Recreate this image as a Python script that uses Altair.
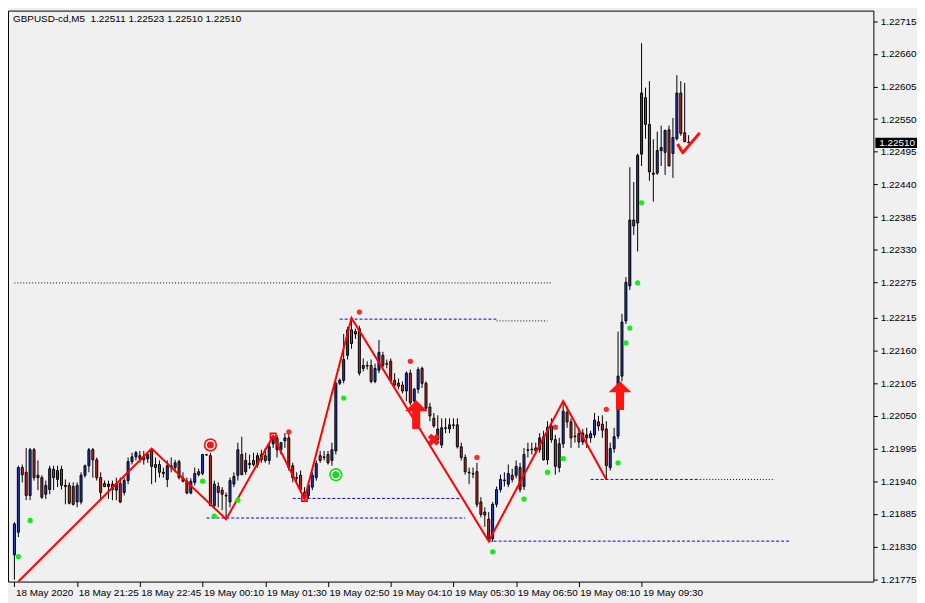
import json
import altair as alt
import pandas as pd

# ---------------- data ----------------
OPEN = [1.21816,1.21854,1.21963,1.21955,1.21916,1.21993,1.21946,1.21946,1.21918,1.21926,
        1.21960,1.21943,1.21960,1.21933,1.21933,1.21931,1.21905,1.21905,1.21950,1.21966,
        1.21993,1.21976,1.21946,1.21936,1.21931,1.21935,1.21925,1.21936,1.21921,1.21941,
        1.21973,1.21981,1.21983,1.21981,1.21978,1.21993,1.21968,1.21968,1.21955,1.21943,
        1.21966,1.21963,1.21973,1.21945,1.21940,1.21920,1.21938,1.21956,1.21953,1.21985,
        1.21983,1.21899,1.21931,1.21925,1.21916,1.21905,1.21935,1.21950,1.21985,1.21956,
        1.21968,1.21975,1.21968,1.21985,1.21983,1.21975,1.22003,1.22013,1.21993,1.22008,
        1.22013,1.21966,1.21946,1.21950,1.21921,1.21916,1.21930,1.21946,1.21983,1.21980,
        1.21985,1.21975,1.21991,1.22105,1.22110,1.22152,1.22195,1.22188,1.22197,1.22130,
        1.22135,1.22135,1.22108,1.22127,1.22152,1.22138,1.22142,1.22110,1.22105,1.22102,
        1.22092,1.22122,1.22075,1.22095,1.22130,1.22105,1.22065,1.22046,1.22010,1.22001,
        1.22030,1.22028,1.22035,1.22035,1.21998,1.21980,1.21955,1.21953,1.21956,1.21905,
        1.21888,1.21876,1.21843,1.21901,1.21926,1.21941,1.21935,1.21950,1.21950,1.21963,
        1.21931,1.21993,1.21993,1.21996,1.21993,1.22015,1.21976,1.22033,1.22010,1.21963,
        1.22003,1.22056,1.22040,1.22016,1.22020,1.22006,1.22018,1.22013,1.22018,1.22040,
        1.22036,1.22028,1.21963,1.21995,1.22016,1.22117,1.22210,1.22269,1.22380,1.22375,
        1.22491,1.22586,1.22541,1.22459,1.22459,1.22497,1.22494,1.22532,1.22492,1.22517,
        1.22594,1.22527,1.22511]
HIGH = [1.21871,1.21966,1.21968,1.21996,1.21996,1.21996,1.21975,1.21950,1.21941,1.21966,
        1.21966,1.21966,1.21966,1.21943,1.21938,1.21938,1.21938,1.21955,1.21968,1.21996,
        1.21996,1.21980,1.21955,1.21941,1.21941,1.21941,1.21946,1.21946,1.21946,1.21980,
        1.21988,1.21991,1.21991,1.21991,1.21988,1.21995,1.21980,1.21975,1.21963,1.21975,
        1.21980,1.21976,1.21976,1.21955,1.21946,1.21945,1.21963,1.21961,1.21986,1.21986,
        1.21988,1.21941,1.21938,1.21930,1.21921,1.21946,1.21955,1.22005,1.22015,1.21988,
        1.21985,1.21988,1.21988,1.21993,1.21996,1.22005,1.22016,1.22018,1.22005,1.22021,
        1.22025,1.21971,1.21955,1.21958,1.21930,1.21938,1.21955,1.21975,1.21991,1.21991,
        1.21991,1.22005,1.22108,1.22113,1.22188,1.22200,1.22215,1.22197,1.22202,1.22147,
        1.22142,1.22145,1.22138,1.22178,1.22158,1.22145,1.22147,1.22122,1.22113,1.22108,
        1.22125,1.22128,1.22097,1.22132,1.22133,1.22108,1.22072,1.22055,1.22051,1.22046,
        1.22046,1.22046,1.22046,1.22046,1.22005,1.21985,1.21963,1.21963,1.21971,1.21913,
        1.21896,1.21888,1.21905,1.21931,1.21951,1.21955,1.21968,1.21961,1.21975,1.21971,
        1.21996,1.22005,1.22005,1.22005,1.22021,1.22025,1.22041,1.22046,1.22018,1.22013,
        1.22075,1.22065,1.22046,1.22038,1.22030,1.22028,1.22030,1.22025,1.22055,1.22050,
        1.22051,1.22041,1.22005,1.22030,1.22192,1.22222,1.22284,1.22469,1.22444,1.22492,
        1.22678,1.22603,1.22614,1.22516,1.22529,1.22539,1.22532,1.22539,1.22552,1.22624,
        1.22614,1.22611,1.22523]
LOW = [1.21774,1.21846,1.21938,1.21908,1.21908,1.21941,1.21925,1.21910,1.21910,1.21918,
       1.21925,1.21930,1.21926,1.21901,1.21901,1.21899,1.21896,1.21901,1.21946,1.21955,
       1.21946,1.21941,1.21908,1.21930,1.21910,1.21908,1.21908,1.21903,1.21916,1.21935,
       1.21968,1.21975,1.21971,1.21968,1.21971,1.21935,1.21938,1.21946,1.21946,1.21930,
       1.21955,1.21955,1.21943,1.21938,1.21918,1.21918,1.21933,1.21948,1.21950,1.21983,
       1.21898,1.21896,1.21896,1.21891,1.21876,1.21896,1.21930,1.21941,1.21950,1.21951,
       1.21961,1.21965,1.21963,1.21971,1.21971,1.21968,1.21996,1.21980,1.21985,1.21996,
       1.21958,1.21938,1.21938,1.21921,1.21910,1.21911,1.21925,1.21941,1.21971,1.21975,
       1.21968,1.21966,1.21985,1.22102,1.22105,1.22145,1.22163,1.22180,1.22118,1.22125,
       1.22128,1.22105,1.22105,1.22122,1.22130,1.22130,1.22105,1.22097,1.22095,1.22088,
       1.22075,1.22068,1.22072,1.22088,1.22097,1.22058,1.22041,1.22030,1.22005,1.21996,
       1.22021,1.22021,1.22028,1.21995,1.21975,1.21951,1.21935,1.21945,1.21896,1.21879,
       1.21863,1.21839,1.21838,1.21896,1.21921,1.21931,1.21930,1.21938,1.21945,1.21921,
       1.21925,1.21980,1.21985,1.21985,1.21988,1.21975,1.21968,1.22005,1.21951,1.21955,
       1.21996,1.22030,1.21996,1.22005,1.21996,1.22001,1.21996,1.22005,1.22013,1.22025,
       1.22013,1.21943,1.21958,1.21988,1.22011,1.22108,1.22205,1.22262,1.22355,1.22327,
       1.22471,1.22517,1.22446,1.22411,1.22456,1.22471,1.22456,1.22471,1.22451,1.22514,
       1.22522,1.22511,1.22510]
CLOSE = [1.21868,1.21963,1.21951,1.21916,1.21993,1.21946,1.21950,1.21913,1.21933,1.21961,
         1.21946,1.21958,1.21933,1.21931,1.21903,1.21901,1.21933,1.21950,1.21966,1.21993,
         1.21976,1.21946,1.21921,1.21931,1.21935,1.21926,1.21936,1.21905,1.21941,1.21973,
         1.21981,1.21988,1.21978,1.21976,1.21985,1.21965,1.21963,1.21955,1.21953,1.21966,
         1.21963,1.21971,1.21946,1.21940,1.21920,1.21940,1.21953,1.21951,1.21985,1.21984,
         1.21899,1.21935,1.21921,1.21918,1.21915,1.21941,1.21948,1.21993,1.21951,1.21975,
         1.21970,1.21968,1.21983,1.21976,1.21975,1.21998,1.22016,1.21993,1.22005,1.22013,
         1.21963,1.21946,1.21945,1.21926,1.21913,1.21933,1.21950,1.21970,1.21975,1.21981,
         1.21971,1.21993,1.22105,1.22110,1.22145,1.22195,1.22172,1.22192,1.22122,1.22135,
         1.22134,1.22108,1.22130,1.22157,1.22135,1.22137,1.22110,1.22102,1.22100,1.22092,
         1.22122,1.22072,1.22095,1.22128,1.22105,1.22063,1.22050,1.22033,1.22028,1.22030,
         1.22029,1.22035,1.22034,1.21998,1.21980,1.21956,1.21954,1.21952,1.21901,1.21884,
         1.21883,1.21843,1.21901,1.21926,1.21943,1.21942,1.21953,1.21943,1.21965,1.21926,
         1.21985,1.21992,1.21994,1.21991,1.22013,1.21976,1.22031,1.22010,1.21965,1.22003,
         1.22058,1.22040,1.22013,1.22015,1.22006,1.22021,1.22013,1.22020,1.22043,1.22033,
         1.22026,1.21966,1.21995,1.22015,1.22117,1.22208,1.22275,1.22380,1.22370,1.22489,
         1.22594,1.22541,1.22461,1.22457,1.22497,1.22502,1.22531,1.22471,1.22519,1.22594,
         1.22526,1.22512,1.22510]

ZIG_BARS = [1, 35, 54, 66, 74, 86, 121, 140, 151]
ZIG_PRICES = [1.21771, 1.21995, 1.21876, 1.22016, 1.21910, 1.22215, 1.21839, 1.22075, 1.21943]

BLUE_LINE_START = [83, 71, 49, 147, 121]
BLUE_LINE_END = [123, 114, 115, 175, 198]
BLUE_LINE_PRICE = [1.22213, 1.21911, 1.21878, 1.21943, 1.21839]
DOT_LINE_START = [0, 123, 175]
DOT_LINE_END = [137, 136, 194]
DOT_LINE_PRICE = [1.22274, 1.22210, 1.21943]

GREEN_DOT_BARS = [1, 4, 48, 51, 57, 84, 122, 130, 136, 140, 154, 156, 157, 159, 160]
GREEN_DOT_PRICES = [1.21813, 1.21874, 1.21940, 1.21881, 1.21908, 1.22080, 1.21821, 1.21910,
                    1.21955, 1.21978, 1.21971, 1.22173, 1.22198, 1.22274, 1.22409]
RED_DOT_BARS = [70, 88, 101, 118, 138, 151]
RED_DOT_PRICES = [1.22023, 1.22225, 1.22142, 1.21980, 1.22031, 1.22061]
RED_TARGET = {"bar": [50], "price": [1.22001]}
GREEN_TARGET = {"bar": [82], "price": [1.21951]}
SQUARE_BARS = [66, 74]
SQUARE_PRICES = [1.22016, 1.21911]
CROSS = {"bar": [107], "price": [1.22010]}
ARROW_BARS = [102.5, 154.5]
ARROW_PRICES = [1.22052, 1.22084]
CHECK = {"bar": [172], "price": [1.22510]}

LAST_PRICE = 1.22510
TITLE = "GBPUSD-cd,M5\u00a0 1.22511 1.22523 1.22510 1.22510"

X_TICK_BARS = [0, 16, 32, 48, 64, 80, 96, 112, 128, 144, 160]
X_TICK_LABELS = ["18 May 2020", "18 May 21:25", "18 May 22:45", "19 May 00:10",
                 "19 May 01:30", "19 May 02:50", "19 May 04:10", "19 May 05:30",
                 "19 May 06:50", "19 May 08:10", "19 May 09:30"]
Y_TICKS = [1.22715, 1.22660, 1.22605, 1.22550, 1.22495, 1.22440, 1.22385, 1.22330,
           1.22275, 1.22215, 1.22160, 1.22105, 1.22050, 1.21995, 1.21940, 1.21885,
           1.21830, 1.21775]

# ---------------- styling ----------------
W, H = 873, 576
BG = "#f0f0f0"
BULL = "#1f3ccc"
BEAR = "#d42a20"
ZIGRED = "#ff0000"
FONT = "Liberation Sans"
FS = 10

xscale = alt.Scale(domain=[-0.375, 217.875], nice=False, zero=False)
yscale = alt.Scale(domain=[1.217709, 1.227328], nice=False, zero=False)

xaxis = alt.Axis(values=X_TICK_BARS, title=None, grid=False, domain=False,
                 labelExpr=f"{json.dumps(X_TICK_LABELS)}[round(datum.value/16)]",
                 tickSize=5, tickColor="black", labelAlign="left", labelBaseline="top",
                 labelPadding=1, labelOffset=1, labelFont=FONT, labelFontSize=FS,
                 labelColor="black", labelOverlap=False, labelFlush=False, labelBound=False)
yaxis = alt.Axis(values=Y_TICKS, format=".5f", orient="right", title=None, grid=False,
                 domain=False, tickSize=4, tickColor="black", labelPadding=3,
                 labelFont=FONT, labelFontSize=FS, labelColor="black",
                 labelOverlap=False, labelFlush=False, labelBound=False)


def X(f):
    return alt.X(f"{f}:Q", scale=xscale, axis=xaxis)


def Y(f):
    return alt.Y(f"{f}:Q", scale=yscale, axis=yaxis)


df = pd.DataFrame({"bar": list(range(len(OPEN))), "open": OPEN, "high": HIGH,
                   "low": LOW, "close": CLOSE})
df["dir"] = ["up" if c > o else "down" for o, c in zip(OPEN, CLOSE)]

blue_df = pd.DataFrame({"x0": BLUE_LINE_START, "x1": BLUE_LINE_END, "price": BLUE_LINE_PRICE})
dot_df = pd.DataFrame({"x0": DOT_LINE_START, "x1": DOT_LINE_END, "price": DOT_LINE_PRICE})

blue_lines = alt.Chart(blue_df).mark_rule(color="#0000e6", strokeWidth=1, strokeDash=[3, 2]).encode(
    x=X("x0"), x2="x1:Q", y=Y("price"))
dot_lines = alt.Chart(dot_df).mark_rule(color="#000000", strokeWidth=1, strokeDash=[1, 2]).encode(
    x=X("x0"), x2="x1:Q", y=Y("price"))

wicks = alt.Chart(df).mark_rule(color="black", strokeWidth=1).encode(
    x=X("bar"), y=Y("low"), y2="high:Q")
bodies = alt.Chart(df).mark_bar(size=2, stroke="black", strokeWidth=1, orient="vertical").encode(
    x=X("bar"), y=Y("open"), y2="close:Q",
    color=alt.Color("dir:N", scale=alt.Scale(domain=["up", "down"], range=[BULL, BEAR]), legend=None))

zig = alt.Chart(pd.DataFrame({"bar": ZIG_BARS, "price": ZIG_PRICES})).mark_line(
    color=ZIGRED, strokeWidth=2).encode(x=X("bar"), y=Y("price"), order="bar:Q")

green_dots = alt.Chart(pd.DataFrame({"bar": GREEN_DOT_BARS, "price": GREEN_DOT_PRICES})).mark_circle(
    size=28, color="#10f010", opacity=1).encode(x=X("bar"), y=Y("price"))
red_dots = alt.Chart(pd.DataFrame({"bar": RED_DOT_BARS, "price": RED_DOT_PRICES})).mark_circle(
    size=28, color="#ff2828", opacity=1).encode(x=X("bar"), y=Y("price"))


def target(d, col):
    src = pd.DataFrame(d)
    base = alt.Chart(src).encode(x=X("bar"), y=Y("price"))
    return alt.layer(
        base.mark_circle(size=180, color=col, opacity=1),
        base.mark_circle(size=100, color="#f8f8f8", opacity=1),
        base.mark_circle(size=50, color=col, opacity=1),
    )


red_target = target(RED_TARGET, "#f01818")
green_target = target(GREEN_TARGET, "#18d818")

squares = alt.Chart(pd.DataFrame({"bar": SQUARE_BARS, "price": SQUARE_PRICES})).mark_point(
    shape="square", size=30, filled=False, stroke="#ff0000", strokeWidth=1.6, opacity=1).encode(
    x=X("bar"), y=Y("price"))

cross = alt.Chart(pd.DataFrame(CROSS)).mark_point(
    shape="cross", angle=45, size=150, filled=True, color="#f01818", opacity=1).encode(
    x=X("bar"), y=Y("price"))

ARROW_PATH = "M0,-1 L0.79,-0.24 L0.28,-0.24 L0.28,1 L-0.28,1 L-0.28,-0.24 L-0.79,-0.24 Z"
arrows = alt.Chart(pd.DataFrame({"bar": ARROW_BARS, "price": ARROW_PRICES})).mark_point(
    shape=ARROW_PATH, size=841, filled=True, color="#ff1414", opacity=1).encode(
    x=X("bar"), y=Y("price"))

CHECK_PATH = "M-1,0.1 L-0.53,0.9 L1,-0.9"
check = alt.Chart(pd.DataFrame(CHECK)).mark_point(
    shape=CHECK_PATH, size=500, filled=False, stroke="#ff1010", strokeWidth=3,
    strokeJoin="round", opacity=1).encode(x=X("bar"), y=Y("price"))

title = alt.Chart(pd.DataFrame({"label": [TITLE]})).mark_text(
    align="left", baseline="middle", font=FONT, fontSize=FS, color="black").encode(
    x=alt.value(5), y=alt.value(8), text="label:N")

price_df = pd.DataFrame({"price": [LAST_PRICE], "label": [f"{LAST_PRICE:.5f}"]})
BOX_PATH = "M-1,-0.25 L1,-0.25 L1,0.25 L-1,0.25 Z"
price_box = alt.Chart(price_df).mark_point(
    shape=BOX_PATH, size=1764, filled=True, color="black", opacity=1).encode(
    x=alt.value(W + 23), y=Y("price"))
price_text = alt.Chart(price_df).mark_text(
    align="center", baseline="middle", font=FONT, fontSize=FS, color="white").encode(
    x=alt.value(W + 24), y=Y("price"), text="label:N")

chart = alt.layer(
    blue_lines, dot_lines, wicks, bodies, zig, green_dots, red_dots,
    red_target, green_target, squares, cross, arrows, check, title,
    price_box, price_text,
).properties(
    width=W, height=H, background=BG,
    autosize=alt.AutoSizeParams(type="none"),
    padding={"left": 0, "top": 0, "right": 44, "bottom": 20},
).configure_view(stroke="black", strokeWidth=1, fill=BG)

chart.save("out.html", embed_options={"renderer": "svg", "actions": False})
